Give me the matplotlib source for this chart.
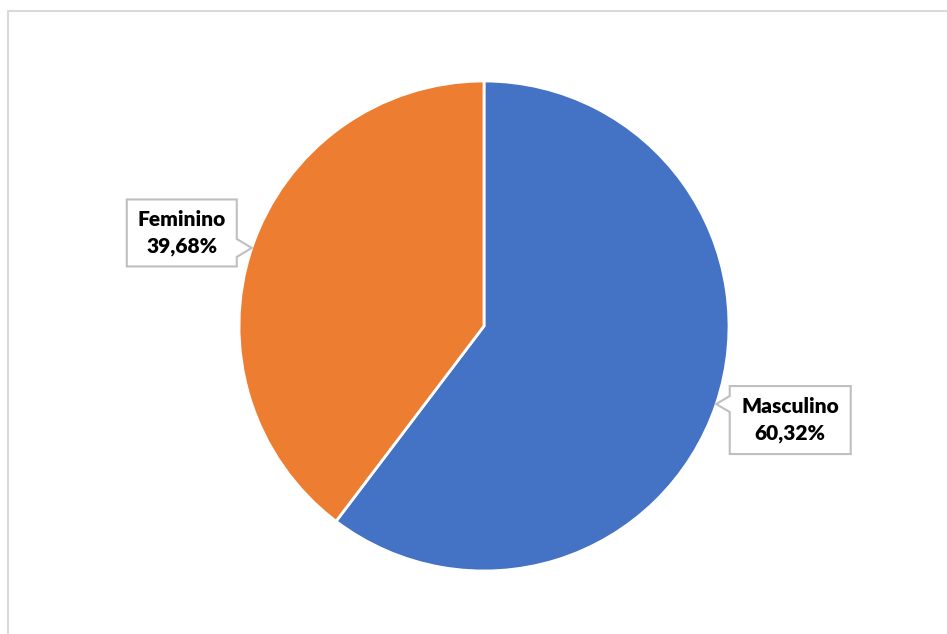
import numpy as np
import matplotlib.pyplot as plt
from matplotlib.patches import Polygon

# datos
labels = ['Masculino', 'Feminino']
values = [60.32, 39.68]
colors = ['#4472C4', '#ED7D31']

W, H = 947, 634
fig = plt.figure(figsize=(W / 100, H / 100), dpi=100)
ax = fig.add_axes([0, 0, 1, 1])

# marco gris (borde izquierdo y superior)
ax.plot([8, 8, W], [0, H - 11, H - 11], color='#D9D9D9', lw=1.5, solid_capstyle='butt')

cx, cy, r = 484, H - 326, 245
wedges, _ = ax.pie(values, colors=colors, startangle=90, counterclock=False,
                   center=(cx, cy), radius=r, frame=True,
                   wedgeprops=dict(edgecolor='white', linewidth=2))
ax.set_xlim(0, W)
ax.set_ylim(0, H)
ax.set_aspect('equal')
ax.axis('off')

# etiquetas tipo "callout"
offsets = {'Masculino': (74, -16, 121, 68), 'Feminino': (-70, 15, 110, 67)}
for w, lab, v in zip(wedges, labels, values):
    ang = np.deg2rad((w.theta1 + w.theta2) / 2)
    tx, ty = cx + r * np.cos(ang), cy + r * np.sin(ang)
    dx, dy, bw, bh = offsets[lab]
    bx, by = tx + dx, ty + dy
    x0, x1 = bx - bw / 2, bx + bw / 2
    y0, y1 = by - bh / 2, by + bh / 2
    if dx > 0:
        pts = [(x0, y0), (x1, y0), (x1, y1), (x0, y1),
               (x0, ty + 8), (tx, ty), (x0, ty - 8)]
    else:
        pts = [(x0, y0), (x1, y0), (x1, ty - 9), (tx, ty), (x1, ty + 9),
               (x1, y1), (x0, y1)]
    ax.add_patch(Polygon(pts, closed=True, facecolor='white',
                         edgecolor='#BFBFBF', lw=1.5, zorder=5))
    txt = f"{lab}\n{v:.2f}%".replace('.', ',')
    ax.text(bx, by, txt, ha='center', va='center', fontsize=15,
            fontweight='heavy', family='Lato', linespacing=1.5, zorder=6)

fig.savefig('out.png', dpi=100)
